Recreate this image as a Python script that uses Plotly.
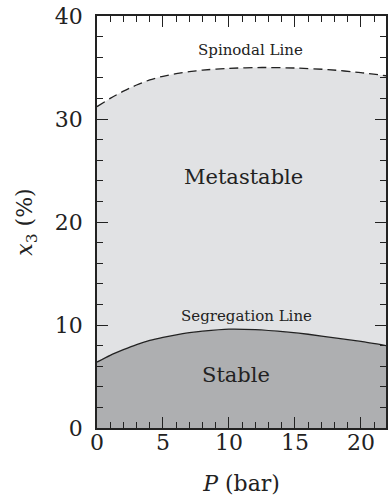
import plotly.graph_objects as go

# Data
P_spin = [0, 1, 2, 3, 4, 5, 6, 7, 8, 10, 12.5, 15, 17.5, 20, 21.9]
x3_spin = [31.2, 32.0, 32.7, 33.3, 33.8, 34.15, 34.4, 34.6, 34.75, 34.92, 35.0, 34.95, 34.8, 34.5, 34.2]

P_seg = [0, 1, 2, 3, 4, 5, 6, 7, 8, 10, 12, 14.5, 16, 18.3, 20, 21.9]
x3_seg = [6.4, 7.05, 7.6, 8.1, 8.5, 8.8, 9.05, 9.25, 9.4, 9.6, 9.55, 9.3, 9.1, 8.7, 8.4, 8.0]

x_ticks = [0, 5, 10, 15, 20]
y_ticks = [0, 10, 20, 30, 40]

STABLE = "#aeafb1"
META = "#e1e2e4"
INK = "#222222"
FONT = "DejaVu Serif, Liberation Serif, serif"

fig = go.Figure()
fig.add_trace(go.Scatter(x=P_seg, y=x3_seg, mode="lines", fill="tozeroy",
                         fillcolor=STABLE, line=dict(color=INK, width=1.3, shape="spline", smoothing=0.6),
                         hoverinfo="skip", showlegend=False))
fig.add_trace(go.Scatter(x=P_spin, y=x3_spin, mode="lines", fill="tonexty",
                         fillcolor=META, line=dict(color=INK, width=1.3, shape="spline", smoothing=0.6, dash="9px,5px"),
                         hoverinfo="skip", showlegend=False))

annots = [
    ("Spinodal Line", 11.65, 36.7, 15),
    ("Metastable", 11.1, 24.4, 21),
    ("Segregation Line", 11.35, 10.9, 15),
    ("Stable", 10.5, 5.15, 21),
]
for t, x, y, s in annots:
    fig.add_annotation(x=x, y=y, text=t, showarrow=False,
                       font=dict(family=FONT, size=s, color=INK))

axis_common = dict(showline=True, linecolor=INK, linewidth=1.8, mirror="ticks",
                   ticks="inside", ticklen=11, tickwidth=1.3, tickcolor=INK,
                   showgrid=False, zeroline=False,
                   tickfont=dict(family=FONT, size=22, color=INK))

fig.update_xaxes(range=[0, 21.9], tickvals=x_ticks, ticktext=[str(v) for v in x_ticks],
                 minor=dict(dtick=1, ticks="inside", ticklen=6, tickwidth=1.2, tickcolor=INK, showgrid=False),
                 title=dict(text="<i>P</i> (bar)", font=dict(family=FONT, size=22, color=INK), standoff=22),
                 ticklabelstandoff=-6,
                 **axis_common)
fig.update_yaxes(range=[0, 40], tickvals=y_ticks, ticktext=[str(v) for v in y_ticks],
                 minor=dict(dtick=2, ticks="inside", ticklen=6, tickwidth=1.2, tickcolor=INK, showgrid=False),
                 title=dict(text="<i>x</i><sub>3</sub> (%)", font=dict(family=FONT, size=22, color=INK), standoff=16),
                 ticklabelstandoff=8,
                 **axis_common)

fig.update_layout(width=388, height=496, margin=dict(l=97, r=0, t=16, b=68),
                  plot_bgcolor="white", paper_bgcolor="white",
                  font=dict(family=FONT))

fig.write_html("out.html")
